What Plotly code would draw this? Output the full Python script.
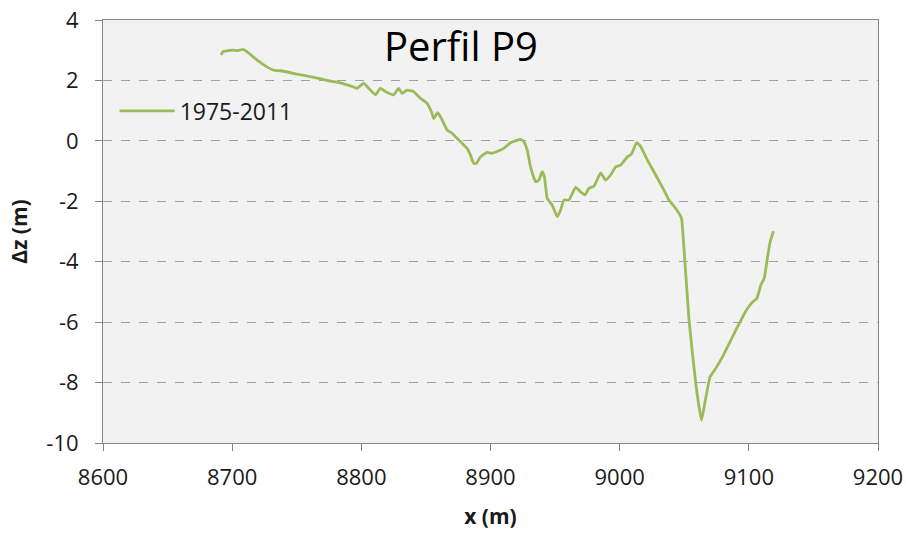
import plotly.graph_objects as go

x_m = [8691.5, 8692.8, 8695.9, 8700.5, 8704.5, 8708.5, 8711.4, 8719.1, 8726.9, 8732.0, 8737.2,
       8750.2, 8763.0, 8776.0, 8783.7, 8791.5, 8796.7, 8801.8, 8805.7, 8810.9, 8814.7, 8818.6,
       8825.0, 8828.9, 8831.6, 8835.4, 8840.5, 8845.7, 8850.9, 8854.8, 8856.0, 8859.0, 8862.0,
       8866.4, 8870.3, 8874.2, 8878.0, 8881.9, 8884.5, 8887.1, 8889.2, 8892.2, 8897.4, 8901.3,
       8906.4, 8910.3, 8915.5, 8919.3, 8923.3, 8925.8, 8928.4, 8931.0, 8934.9, 8937.5, 8940.0,
       8941.8, 8943.9, 8947.8, 8951.7, 8954.3, 8956.8, 8960.7, 8965.9, 8969.8, 8973.1, 8976.2,
       8980.1, 8985.3, 8989.1, 8993.0, 8996.9, 9000.8, 9005.9, 9009.1, 9013.2, 9016.3, 9021.5,
       9027.9, 9034.3, 9038.2, 9043.4, 9047.8, 9048.6, 9053.7, 9058.9, 9063.3, 9065.9, 9070.0,
       9074.4, 9079.6, 9086.0, 9091.2, 9097.7, 9102.9, 9106.2, 9109.3, 9111.9, 9114.5, 9116.5,
       9119.1]
dz = [2.84, 2.95, 2.98, 3.00, 2.99, 3.03, 2.95, 2.68, 2.45, 2.34, 2.32,
      2.21, 2.10, 1.98, 1.92, 1.82, 1.74, 1.90, 1.74, 1.52, 1.74, 1.63,
      1.52, 1.74, 1.57, 1.68, 1.63, 1.41, 1.24, 0.90, 0.74, 0.93, 0.74,
      0.36, 0.25, 0.08, -0.08, -0.25, -0.47, -0.75, -0.74, -0.53, -0.38, -0.41,
      -0.33, -0.25, -0.06, 0.00, 0.05, -0.03, -0.30, -0.86, -1.35, -1.30, -1.02,
      -1.20, -1.90, -2.13, -2.51, -2.29, -1.96, -1.96, -1.54, -1.69, -1.79, -1.57,
      -1.50, -1.06, -1.30, -1.13, -0.86, -0.80, -0.53, -0.44, -0.06, -0.19, -0.64,
      -1.13, -1.63, -1.96, -2.24, -2.55, -2.84, -5.93, -8.03, -9.25, -8.69, -7.81,
      -7.53, -7.15, -6.60, -6.16, -5.63, -5.33, -5.22, -4.77, -4.55, -3.84, -3.34,
      -2.99]

series_name = "1975-2011"
title_text = "Perfil P9"
x_ticks = [8600, 8700, 8800, 8900, 9000, 9100, 9200]
y_ticks = [-10, -8, -6, -4, -2, 0, 2, 4]

font_family = "Open Sans, Noto Sans, Liberation Sans, sans-serif"
txt = "#1a1a1a"

fig = go.Figure()
fig.add_trace(go.Scatter(
    x=x_m, y=dz, mode="lines", name=series_name,
    line=dict(color="#9BBB59", width=2.8, shape="spline", smoothing=0.4),
))

fig.update_layout(
    width=906, height=537,
    margin=dict(l=103, r=28, t=20, b=94, autoexpand=False),
    paper_bgcolor="white", plot_bgcolor="#F2F2F2",
    font=dict(family=font_family, size=22, color=txt),
    showlegend=True,
    legend=dict(x=0.015, y=0.785, xanchor="left", yanchor="middle", itemwidth=55,
                bgcolor="rgba(0,0,0,0)", font=dict(size=23, color=txt)),
    annotations=[dict(text=title_text, xref="paper", yref="paper",
                      x=0.462, y=0.94, xanchor="center", yanchor="middle",
                      showarrow=False, font=dict(size=40, color="#000000"))],
)

fig.update_xaxes(
    range=[8600, 9200], tickvals=x_ticks, ticktext=[str(v) for v in x_ticks],
    showgrid=False, zeroline=False,
    showline=True, linecolor="#868686", linewidth=1, mirror=True,
    ticks="outside", ticklen=7, tickcolor="#868686", ticklabelstandoff=8,
    ticklabeloverflow="allow",
    title=dict(text="<b>x (m)</b>", font=dict(size=21), standoff=18),
)
fig.update_yaxes(
    range=[-10, 4], tickvals=y_ticks, ticktext=[str(v) for v in y_ticks],
    showgrid=True, gridcolor="#A0A0A0", griddash="dash", gridwidth=1,
    zeroline=False,
    showline=True, linecolor="#868686", linewidth=1, mirror=True,
    ticks="outside", ticklen=7, tickcolor="#868686", ticklabelstandoff=12,
    ticklabeloverflow="allow",
    title=dict(text="<b>Δz (m)</b>", font=dict(size=21), standoff=12),
)

fig.write_html(
    "out.html",
    config={"displayModeBar": False},
    post_script="document.body.style.margin='0';document.body.style.overflow='hidden';",
)
